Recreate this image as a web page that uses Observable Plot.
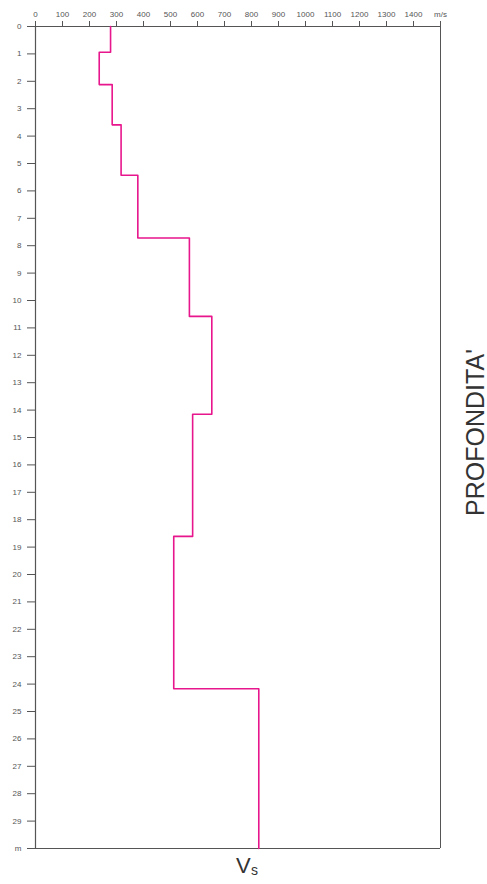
<!DOCTYPE html>
<html>
<head>
<meta charset="utf-8">
<script src="https://cdn.jsdelivr.net/npm/d3@7"></script>
<script src="https://cdn.jsdelivr.net/npm/@observablehq/plot@0.6"></script>
<style>
  body { margin: 0; background: #fff; }
  #chart svg { display: block; }
</style>
</head>
<body>
<div id="chart"></div>
<script>
// Layer tops (m) and shear-wave velocities (m/s)
const layerTops = [0, 0.94, 2.12, 3.59, 5.43, 7.72, 10.58, 14.15, 18.61, 24.17];
const layerVs   = [278, 236, 284, 317, 379, 570, 653, 582, 512, 827];
const maxDepth = 30;

const xTicks = [0,100,200,300,400,500,600,700,800,900,1000,1100,1200,1300,1400,1500];
const xUnit = "m/s";
const yTicks = [0,1,2,3,4,5,6,7,8,9,10,11,12,13,14,15,16,17,18,19,20,21,22,23,24,25,26,27,28,29,30];
const yUnit = "m";
const yTitle = "PROFONDITA'";
const xTitleMain = "V";
const xTitleSub = "s";

const profile = layerTops.map((d, i) => ({depth: d, vs: layerVs[i]}));
profile.push({depth: maxDepth, vs: layerVs[layerVs.length - 1]});

const axisColor = "#555";
const lineColor = "#e8168c";

const chart = Plot.plot({
  width: 487,
  height: 884,
  marginTop: 26,
  marginLeft: 35,
  marginRight: 47,
  marginBottom: 36,
  style: {fontFamily: "'Liberation Sans', Arial, sans-serif", background: "#fff"},
  x: {domain: [0, 1500], axis: null},
  y: {domain: [0, maxDepth], reverse: true, axis: null},
  marks: [
    Plot.axisX({anchor: "top", ticks: xTicks, tickSize: 6, tickPadding: 4, label: null,
      tickFormat: d => d === 1500 ? xUnit : String(d),
      fontSize: 8, color: axisColor, stroke: axisColor}),
    Plot.axisY({anchor: "left", ticks: yTicks, tickSize: 8, tickPadding: 6, label: null,
      tickFormat: d => d === maxDepth ? yUnit : String(d),
      fontSize: 8, color: axisColor, stroke: axisColor}),
    Plot.ruleX([0], {stroke: axisColor, strokeWidth: 1.2}),
    Plot.ruleX([1500], {stroke: axisColor, strokeWidth: 1}),
    Plot.ruleY([0], {stroke: axisColor, strokeWidth: 1.2}),
    Plot.ruleY([maxDepth], {stroke: axisColor, strokeWidth: 1.2}),
    Plot.line(profile, {x: "vs", y: "depth", curve: "step-before", stroke: lineColor, strokeWidth: 1.6}),
    Plot.text([yTitle], {frameAnchor: "right", rotate: -90, dx: 43, dy: -5, lineAnchor: "bottom",
      fontSize: 25, fill: "#333", textAnchor: "middle"}),
    Plot.text([xTitleMain], {frameAnchor: "bottom", dx: -2, dy: 24, lineAnchor: "bottom",
      textAnchor: "start", fontSize: 22, fill: "#333"}),
    Plot.text([xTitleSub], {frameAnchor: "bottom", dx: 13, dy: 26, lineAnchor: "bottom",
      textAnchor: "start", fontSize: 14, fill: "#333"})
  ]
});
document.getElementById("chart").appendChild(chart);
</script>
</body>
</html>
